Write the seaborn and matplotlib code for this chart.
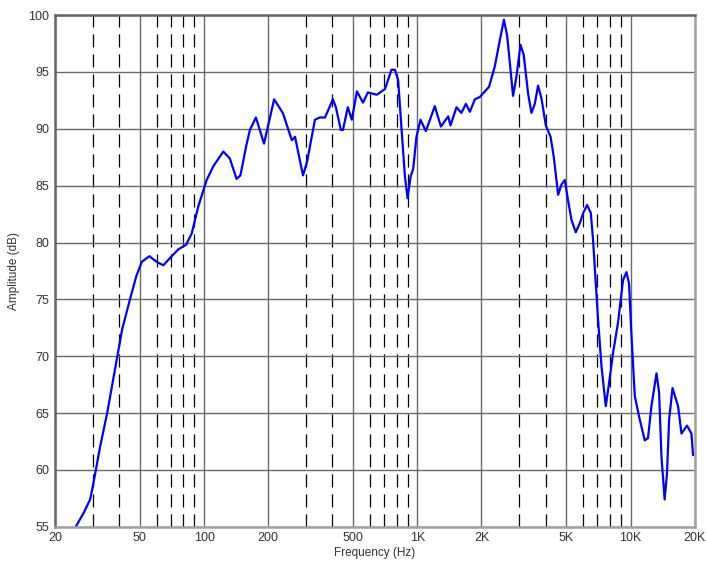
import matplotlib
matplotlib.use("Agg")
from matplotlib import pyplot as plt
from matplotlib.ticker import FixedLocator, NullFormatter
import pandas as pd
import seaborn as sns

freq_hz = [25, 27.2, 29.2, 30.1, 32.5, 35.1, 39.1, 41.2, 44.9, 48, 51, 55.4, 59.9,
           64.4, 70.5, 75.7, 82.3, 87.5, 94, 102.8, 110.4, 123, 132, 142, 148, 158,
           164, 175, 191, 213, 234, 258, 267, 291, 304, 331, 349, 369, 402, 415, 438,
           448, 472, 493, 521, 556, 586, 646, 705, 757, 785, 813, 844, 875, 900, 930,
           957, 991, 1035, 1097, 1208, 1290, 1396, 1431, 1527, 1610, 1690, 1764,
           1862, 1964, 2170, 2310, 2438, 2548, 2638, 2736, 2812, 2918, 3046, 3156,
           3308, 3430, 3556, 3684, 3820, 4006, 4218, 4368, 4576, 4744, 4920, 5094,
           5284, 5534, 5782, 5998, 6256, 6512, 6674, 6792, 7044, 7310, 7656, 7926,
           8280, 8730, 9226, 9572, 9840, 10094, 10472, 10966, 11662, 12080, 12532,
           13236, 13616, 13964, 14456, 14826, 15170, 15740, 16712, 17336, 18410,
           19310, 19640]
amp_db = [55.0, 56.2, 57.4, 58.6, 62.0, 65.0, 69.9, 72.3, 75.0, 77.0, 78.3, 78.8, 78.3,
          78.0, 78.8, 79.4, 79.8, 80.8, 83.2, 85.5, 86.7, 88.0, 87.4, 85.6, 85.9, 88.6,
          89.9, 91.0, 88.7, 92.6, 91.4, 89.0, 89.3, 85.9, 87.1, 90.8, 91.0, 91.0, 92.6,
          91.9, 89.9, 89.9, 91.9, 90.8, 93.3, 92.3, 93.2, 93.0, 93.5, 95.2, 95.2, 94.3,
          89.9, 85.8, 83.9, 85.8, 86.5, 89.3, 90.8, 89.8, 92.0, 90.2, 91.1, 90.3, 91.9,
          91.4, 92.2, 91.5, 92.6, 92.8, 93.7, 95.5, 97.8, 99.6, 98.2, 95.2, 92.9, 94.6,
          97.4, 96.5, 93.1, 91.4, 92.2, 93.8, 92.7, 90.3, 89.3, 87.5, 84.2, 85.1, 85.5,
          83.7, 82.0, 80.9, 81.7, 82.6, 83.3, 82.6, 80.2, 77.9, 73.2, 69.1, 65.6, 67.6,
          70.3, 72.9, 76.7, 77.4, 76.4, 72.0, 66.5, 64.7, 62.6, 62.8, 65.6, 68.5, 66.8,
          61.2, 57.4, 59.7, 64.4, 67.2, 65.6, 63.2, 63.9, 63.2, 61.3]

major_freqs = [20, 50, 100, 200, 500, 1000, 2000, 5000, 10000, 20000]
major_labels = ["20", "50", "100", "200", "500", "1K", "2K", "5K", "10K", "20K"]
minor_freqs = [30, 40, 60, 70, 80, 90, 300, 400, 600, 700, 800, 900,
               3000, 4000, 6000, 7000, 8000, 9000]
amp_ticks = [55, 60, 65, 70, 75, 80, 85, 90, 95, 100]

sns.set_style("white")
plt.rcParams["font.family"] = ["Liberation Sans", "DejaVu Sans"]

df = pd.DataFrame({"Frequency": freq_hz, "Amplitude": amp_db})

fig = plt.figure(figsize=(7.06, 5.61), dpi=100)
ax = fig.add_axes([0.078, 0.061, 0.906, 0.912])

ax.set_xscale("log")
ax.set_xlim(20, 20000)
ax.set_ylim(55, 100)

ax.xaxis.set_major_locator(FixedLocator(major_freqs))
ax.xaxis.set_minor_locator(FixedLocator(minor_freqs))
ax.xaxis.set_minor_formatter(NullFormatter())
ax.set_xticklabels(major_labels)
ax.set_yticks(amp_ticks)

# solid decade lines, dashed in-between lines
ax.grid(True, which="major", axis="both", color="#6a6a6a", linewidth=1.0)
ax.grid(True, which="minor", axis="x", color="black", linewidth=0.9,
        linestyle=(0, (10.5, 5.5)))
ax.set_axisbelow(True)

sns.lineplot(data=df, x="Frequency", y="Amplitude", color="#0000ff",
             linewidth=1.6, sort=False, ax=ax)

ax.tick_params(axis="both", which="both", length=0, labelsize=9,
               labelcolor="#333333", pad=4)
ax.set_xlabel("Frequency (Hz)", fontsize=8.5, color="#333333", labelpad=2)
ax.set_ylabel("Amplitude (dB)", fontsize=8.5, color="#333333", labelpad=6)

for side in ["top", "left"]:
    ax.spines[side].set_color("#666666")
    ax.spines[side].set_linewidth(1.8)
for side in ["bottom", "right"]:
    ax.spines[side].set_color("#a0a0a0")
    ax.spines[side].set_linewidth(1.8)

fig.savefig("out.png", dpi=100)
